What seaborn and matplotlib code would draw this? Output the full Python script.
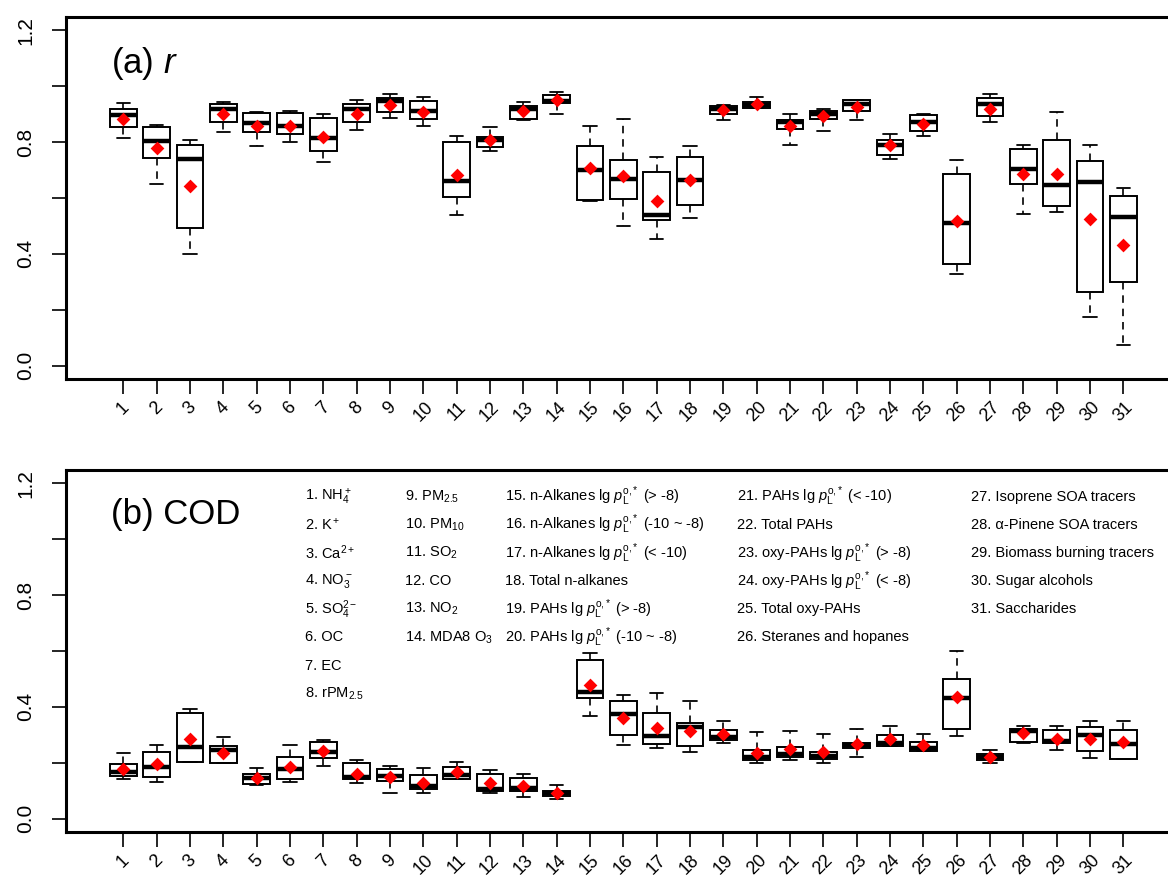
import numpy as np
import pandas as pd
import matplotlib
matplotlib.use("Agg")
import matplotlib.pyplot as plt
import seaborn as sns

# categories 1..31
cats = [str(i) for i in range(1, 32)]

# (a) r : whisker low, Q1, median, Q3, whisker high, mean
r_low = [0.814, 0.651, 0.401, 0.835, 0.787, 0.799, 0.729, 0.845, 0.885, 0.858, 0.539,
         0.767, 0.878, 0.901, 0.589, 0.499, 0.452, 0.530, 0.879, 0.921, 0.790, 0.840,
         0.879, 0.740, 0.821, 0.327, 0.872, 0.543, 0.549, 0.174, 0.075]
r_q1 = [0.855, 0.742, 0.493, 0.873, 0.835, 0.829, 0.768, 0.872, 0.909, 0.884, 0.605,
        0.783, 0.883, 0.941, 0.592, 0.598, 0.523, 0.576, 0.902, 0.921, 0.848, 0.883,
        0.912, 0.753, 0.839, 0.364, 0.895, 0.650, 0.570, 0.264, 0.298]
r_med = [0.896, 0.805, 0.741, 0.919, 0.867, 0.857, 0.815, 0.920, 0.946, 0.910, 0.660,
         0.808, 0.919, 0.946, 0.700, 0.669, 0.540, 0.666, 0.919, 0.934, 0.873, 0.901,
         0.937, 0.791, 0.873, 0.511, 0.937, 0.704, 0.645, 0.656, 0.531]
r_q3 = [0.920, 0.855, 0.791, 0.937, 0.906, 0.903, 0.885, 0.938, 0.958, 0.946, 0.800,
        0.818, 0.928, 0.969, 0.785, 0.737, 0.692, 0.746, 0.930, 0.942, 0.880, 0.910,
        0.950, 0.809, 0.896, 0.685, 0.957, 0.776, 0.808, 0.734, 0.608]
r_high = [0.940, 0.863, 0.809, 0.942, 0.909, 0.913, 0.902, 0.951, 0.971, 0.960, 0.821,
          0.855, 0.944, 0.980, 0.858, 0.882, 0.748, 0.787, 0.932, 0.962, 0.902, 0.920,
          0.950, 0.829, 0.902, 0.737, 0.971, 0.790, 0.909, 0.790, 0.635]
r_mean = [0.883, 0.778, 0.643, 0.900, 0.859, 0.859, 0.818, 0.902, 0.932, 0.909, 0.684,
          0.809, 0.910, 0.950, 0.708, 0.678, 0.589, 0.666, 0.914, 0.938, 0.859, 0.892,
          0.926, 0.790, 0.865, 0.519, 0.920, 0.686, 0.686, 0.525, 0.431]

# (b) COD
cod_low = [0.140, 0.130, 0.202, 0.199, 0.119, 0.130, 0.190, 0.128, 0.091, 0.092, 0.141,
           0.091, 0.078, 0.070, 0.369, 0.264, 0.251, 0.239, 0.272, 0.199, 0.210, 0.200,
           0.220, 0.261, 0.241, 0.297, 0.200, 0.271, 0.245, 0.218, 0.215]
cod_q1 = [0.153, 0.150, 0.202, 0.199, 0.124, 0.143, 0.217, 0.141, 0.135, 0.105, 0.141,
          0.099, 0.097, 0.081, 0.431, 0.300, 0.266, 0.261, 0.282, 0.210, 0.220, 0.212,
          0.252, 0.261, 0.241, 0.320, 0.210, 0.274, 0.270, 0.242, 0.215]
cod_med = [0.166, 0.185, 0.257, 0.247, 0.145, 0.178, 0.238, 0.150, 0.153, 0.117, 0.155,
           0.106, 0.109, 0.090, 0.452, 0.374, 0.296, 0.328, 0.293, 0.220, 0.230, 0.224,
           0.263, 0.272, 0.253, 0.432, 0.222, 0.313, 0.278, 0.301, 0.266]
cod_q3 = [0.197, 0.239, 0.378, 0.259, 0.161, 0.221, 0.274, 0.200, 0.179, 0.155, 0.185,
          0.160, 0.146, 0.099, 0.567, 0.422, 0.377, 0.344, 0.317, 0.245, 0.257, 0.239,
          0.272, 0.298, 0.276, 0.500, 0.230, 0.321, 0.316, 0.328, 0.316]
cod_high = [0.234, 0.264, 0.391, 0.292, 0.182, 0.263, 0.283, 0.211, 0.190, 0.180, 0.204,
            0.173, 0.161, 0.121, 0.592, 0.442, 0.451, 0.422, 0.351, 0.311, 0.314, 0.302,
            0.322, 0.333, 0.304, 0.600, 0.245, 0.332, 0.332, 0.351, 0.351]
cod_mean = [0.178, 0.195, 0.286, 0.236, 0.146, 0.186, 0.241, 0.160, 0.148, 0.129, 0.166,
            0.129, 0.115, 0.090, 0.478, 0.359, 0.326, 0.315, 0.302, 0.234, 0.248, 0.240,
            0.266, 0.286, 0.263, 0.437, 0.222, 0.306, 0.285, 0.286, 0.273]

pl = r'$p_{\mathrm{L}}^{\mathrm{o{,}*}}$'
species = [
    r'1. NH$_4^+$', r'2. K$^+$', r'3. Ca$^{2+}$', r'4. NO$_3^-$', r'5. SO$_4^{2-}$',
    '6. OC', '7. EC', r'8. rPM$_{2.5}$',
    r'9. PM$_{2.5}$', r'10. PM$_{10}$', r'11. SO$_2$', '12. CO', r'13. NO$_2$',
    r'14. MDA8 O$_3$',
    '15. n-Alkanes lg ' + pl + ' (> -8)', '16. n-Alkanes lg ' + pl + ' (-10 ~ -8)',
    '17. n-Alkanes lg ' + pl + ' (< -10)', '18. Total n-alkanes',
    '19. PAHs lg ' + pl + ' (> -8)', '20. PAHs lg ' + pl + ' (-10 ~ -8)',
    '21. PAHs lg ' + pl + ' (< -10)', '22. Total PAHs',
    '23. oxy-PAHs lg ' + pl + ' (> -8)', '24. oxy-PAHs lg ' + pl + ' (< -8)',
    '25. Total oxy-PAHs', '26. Steranes and hopanes',
    '27. Isoprene SOA tracers', '28. α-Pinene SOA tracers',
    '29. Biomass burning tracers', '30. Sugar alcohols', '31. Saccharides',
]
col_sizes = [8, 6, 6, 6, 5]

sns.set_style('ticks')
plt.rcParams['font.family'] = ['Liberation Sans', 'DejaVu Sans']
plt.rcParams['mathtext.fontset'] = 'custom'
plt.rcParams['mathtext.rm'] = 'Liberation Sans'
plt.rcParams['mathtext.it'] = 'Liberation Sans:italic'
plt.rcParams['mathtext.bf'] = 'Liberation Sans:bold'
for key in ['text.color', 'axes.labelcolor', 'xtick.color', 'ytick.color', 'axes.edgecolor']:
    plt.rcParams[key] = 'black'

W, H = 1168, 875
fig = plt.figure(figsize=(W / 100, H / 100), dpi=100)


def px_axes(left, top, right, bottom):
    return fig.add_axes([left / W, 1 - bottom / H, (right - left) / W, (bottom - top) / H])


def draw_panel(ax, low, q1, med, q3, high, mean):
    rows = []
    for c, a, b, m, d, e in zip(cats, low, q1, med, q3, high):
        for v in (a, b, m, d, e):
            rows.append((c, v))
    df = pd.DataFrame(rows, columns=['cat', 'val'])
    sns.boxplot(data=df, x='cat', y='val', order=cats, whis=(0, 100), width=0.8,
                color='white', linecolor='black', showfliers=False, ax=ax,
                boxprops=dict(facecolor='white', edgecolor='black', linewidth=1.4),
                medianprops=dict(color='black', linewidth=3.2, solid_capstyle='butt'),
                whiskerprops=dict(color='black', linewidth=1.2, linestyle=(0, (4.5, 3.5))),
                capprops=dict(color='black', linewidth=1.3))
    sns.stripplot(x=cats, y=mean, order=cats, jitter=False, marker='D', color='red',
                  size=7, linewidth=0, ax=ax, zorder=5)
    ax.set_xlim(-1.72, 31.7)
    ax.set_ylim(-0.048, 1.248)
    ax.set_yticks(np.arange(0, 1.21, 0.2))
    ax.set_yticklabels(['0.0', '', '0.4', '', '0.8', '', '1.2'], rotation=90,
                       va='center', fontsize=15)
    ax.set_xticks(range(len(cats)))
    ax.set_xticklabels(cats, rotation=45, ha='center', va='top', fontsize=13)
    ax.tick_params(axis='y', length=10, width=1.2, pad=12)
    ax.tick_params(axis='x', length=11, width=1.2, pad=3)
    ax.set_xlabel('')
    ax.set_ylabel('')
    for s in ax.spines.values():
        s.set_linewidth(2.2)
        s.set_color('black')


ax1 = px_axes(66, 17, 1180, 379)
draw_panel(ax1, r_low, r_q1, r_med, r_q3, r_high, r_mean)
ax1.text((111 - 66) / 1114, (379 - 73) / 362, r'(a) $r$', fontsize=25,
         va='baseline', transform=ax1.transAxes)

ax2 = px_axes(66, 470, 1180, 832)
draw_panel(ax2, cod_low, cod_q1, cod_med, cod_q3, cod_high, cod_mean)
ax2.text((111 - 66) / 1114, (832 - 524) / 362, '(b) COD', fontsize=25,
         va='baseline', transform=ax2.transAxes)

# species key inside panel (b)
col_x = [305, 405, 505, 737, 971]
k = 0
for cx, n in zip(col_x, col_sizes):
    for j in range(n):
        py = 496.7 + j * 28.15
        ax2.text((cx - 66) / 1114, (832 - py) / 362, species[k], fontsize=10.5,
                 va='center', ha='left', transform=ax2.transAxes)
        k += 1

fig.savefig('out.png', dpi=100)
